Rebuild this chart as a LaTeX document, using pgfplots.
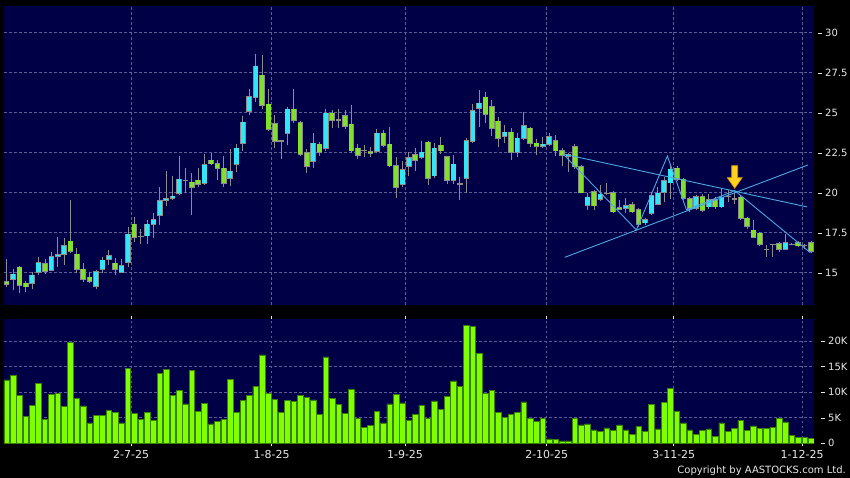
\documentclass[border=0pt]{standalone}
\usepackage{fontspec}
\setmainfont{DejaVu Sans}
\usepackage{pgfplots}
\usepackage{pgfplotstable}
\pgfplotsset{compat=1.18}
\definecolor{bg}{HTML}{000046}
\definecolor{gridc}{HTML}{5C5C98}
\definecolor{upc}{HTML}{33E6F5}
\definecolor{dnc}{HTML}{80E02A}
\definecolor{edgec}{HTML}{8C8C8C}
\definecolor{volc}{HTML}{80FF00}
\definecolor{voledge}{HTML}{3A8000}
\definecolor{linec}{HTML}{4DA8E0}
\definecolor{txt}{HTML}{E8E8E8}
\definecolor{arrowf}{HTML}{FFD21F}
\definecolor{arrowd}{HTML}{E08A00}

\pgfplotstableread{
i O H L C
2 14.58 15.21 13.92 14.90
5 14.33 15.06 13.96 14.83
6 15.04 15.96 14.83 15.63
8 15.17 16.31 15.13 16.00
9 16.02 17.25 15.38 16.13
10 16.17 17.15 15.48 16.69
15 14.17 15.17 13.96 15.06
16 15.21 16.00 14.96 15.77
17 15.83 16.42 15.48 16.04
19 15.04 15.83 15.00 15.44
20 15.65 17.83 15.38 17.40
23 17.31 18.29 16.77 18.02
24 18.02 18.71 17.15 18.29
25 18.58 20.33 17.98 19.48
26 19.52 21.35 19.17 19.60
27 19.67 21.04 19.54 19.77
28 19.96 22.29 19.85 20.83
32 20.58 22.40 20.48 21.73
36 20.90 22.73 20.44 21.33
37 21.77 23.04 21.31 22.77
38 23.08 24.79 22.63 24.40
39 25.10 26.46 24.85 26.00
40 25.96 28.67 25.69 27.90
45 23.71 25.38 22.98 25.21
49 21.98 23.71 21.52 23.08
51 22.77 25.21 22.60 24.96
59 22.60 23.96 22.50 23.71
63 20.52 21.98 20.33 21.42
64 21.67 22.56 21.04 22.19
66 22.21 23.23 22.10 22.52
68 21.06 23.13 20.90 22.77
71 20.79 22.35 20.54 21.77
73 20.90 23.40 20.00 23.25
74 23.23 25.54 23.10 25.13
75 25.27 26.42 24.13 25.59
79 23.54 24.23 23.10 23.77
81 22.52 23.75 22.25 23.40
82 23.40 25.06 23.30 24.19
85 22.92 23.46 22.80 23.02
86 23.02 23.75 22.90 23.50
89 22.28 22.45 21.31 22.38
92 19.23 19.96 18.92 19.71
94 19.58 20.48 19.50 19.90
98 19.02 19.65 18.71 19.17
101 18.13 18.40 18.00 18.29
102 18.71 20.06 18.60 19.81
103 19.29 20.38 19.20 19.96
104 20.02 21.00 19.44 20.75
105 20.62 21.73 19.60 21.46
109 19.02 19.85 18.90 19.75
111 19.12 19.90 19.00 19.54
113 19.12 20.27 19.02 19.71
123 16.46 17.40 16.40 16.88
}\up

\pgfplotstableread{
i O H L C
1 14.44 15.83 14.13 14.27
3 15.33 15.44 13.71 14.21
4 14.33 14.48 13.81 14.13
7 15.56 15.83 14.92 15.10
11 16.96 19.54 16.21 16.35
12 16.15 16.52 15.00 15.21
13 15.21 15.63 14.44 14.58
14 14.71 15.06 14.38 14.48
18 15.58 15.90 14.85 15.21
21 18.02 18.46 16.94 17.21
30 20.65 21.25 18.60 20.33
31 20.77 21.56 20.33 20.52
33 22.02 22.46 21.73 21.81
34 21.79 22.04 20.79 21.52
35 21.52 22.29 20.38 20.58
41 27.33 28.60 25.21 25.48
42 25.52 26.46 23.88 23.98
43 24.31 24.85 22.77 23.21
46 25.21 26.46 24.33 24.54
47 24.38 24.50 22.30 22.42
48 22.50 22.71 21.21 21.67
50 23.02 23.19 22.30 22.52
52 24.96 25.17 24.02 24.54
54 24.79 25.17 24.00 24.17
55 24.27 25.48 22.50 22.63
56 22.77 23.04 22.08 22.33
58 22.56 22.88 22.21 22.46
60 23.71 23.92 22.85 22.98
61 23.02 24.09 21.60 21.69
62 21.69 22.21 19.65 20.33
65 22.38 22.77 21.38 22.02
67 23.15 23.23 20.48 20.90
69 22.96 23.46 22.42 22.63
70 22.25 22.29 20.54 20.79
76 25.96 26.27 24.38 24.90
77 25.38 25.80 23.54 24.02
78 24.46 24.71 22.88 23.40
80 23.77 24.02 22.04 22.52
83 24.02 24.13 22.88 23.08
84 23.08 23.33 22.35 22.92
87 23.25 23.60 22.30 22.63
88 22.63 22.77 21.67 22.35
90 22.85 23.05 21.50 21.63
91 21.63 21.70 19.95 20.00
93 20.06 20.17 18.92 19.19
96 20.00 20.13 18.70 18.81
97 19.06 19.54 18.90 18.98
99 19.23 19.44 18.70 18.81
100 18.92 19.02 17.83 18.04
106 21.52 21.67 20.70 20.83
107 20.83 20.90 19.55 19.65
108 19.60 19.75 18.81 19.02
110 19.75 19.90 18.80 18.90
112 19.54 19.75 19.00 19.12
116 19.71 19.85 18.30 18.40
117 18.40 18.50 17.70 17.90
118 17.65 18.30 17.15 17.21
119 17.46 17.55 16.65 16.78
122 16.78 16.90 16.30 16.46
125 16.88 16.95 16.60 16.69
127 16.88 16.95 16.20 16.35
}\down

\pgfplotstableread{
i O H L C
22 17.27 17.71 16.77 17.27
29 20.77 21.52 20.00 20.77
44 23.23 23.23 22.08 23.23
53 24.54 25.21 24.02 24.54
57 22.63 22.98 22.25 22.63
72 20.54 20.96 19.54 20.54
95 19.96 20.58 19.85 19.96
114 19.75 20.17 19.44 19.75
115 19.60 19.95 19.30 19.60
120 16.46 16.73 16.00 16.46
121 16.78 16.78 16.00 16.78
124 16.78 16.85 16.70 16.78
126 16.69 16.80 16.50 16.69
}\doji

\pgfplotstableread{
i v
1 12.4
2 13.2
3 9.4
4 5.3
5 7.4
6 11.7
7 4.6
8 9.6
9 9.7
10 7.2
11 19.8
12 8.8
13 7.3
14 4.0
15 5.5
16 5.5
17 6.4
18 6.0
19 4.0
20 14.7
21 5.8
22 4.6
23 6.1
24 4.4
25 13.7
26 14.4
27 9.4
28 10.4
29 7.7
30 14.3
31 6.2
32 7.8
33 3.8
34 4.3
35 4.6
36 12.5
37 6.1
38 8.4
39 9.4
40 11.2
41 17.3
42 9.7
43 8.6
44 6.1
45 8.4
46 8.2
47 9.4
48 9.0
49 8.5
50 5.7
51 16.9
52 8.8
53 7.6
54 5.9
55 10.5
56 4.9
57 3.1
58 3.5
59 6.3
60 4.0
61 7.7
62 9.6
63 7.9
64 4.4
65 5.7
66 7.4
67 4.9
68 8.3
69 6.7
70 9.2
71 12.2
72 11.2
73 23.1
74 22.9
75 17.5
76 9.7
77 10.4
78 6.0
79 5.0
80 5.7
81 6.1
82 8.1
83 4.8
84 4.3
85 4.9
86 0.85
87 0.7
88 0.45
89 0.45
90 4.8
91 3.6
92 3.8
93 2.6
94 2.4
95 3.0
96 2.5
97 3.6
98 2.6
99 1.8
100 3.3
101 2.3
102 7.6
103 2.8
104 8.0
105 10.8
106 6.2
107 4.0
108 2.6
109 1.8
110 2.5
111 2.8
112 1.4
113 4.0
114 2.4
115 2.9
116 4.5
117 2.5
118 3.4
119 2.9
120 2.9
121 3.1
122 4.9
123 4.2
124 1.6
125 1.2
126 1.2
127 1.0
}\vol

\pgfdeclareplotmark{yarrow}{%
  \pgfpathmoveto{\pgfpoint{-3pt}{11.3pt}}%
  \pgfpathlineto{\pgfpoint{3pt}{11.3pt}}%
  \pgfpathlineto{\pgfpoint{3pt}{-0.7pt}}%
  \pgfpathlineto{\pgfpoint{7.5pt}{-0.7pt}}%
  \pgfpathlineto{\pgfpoint{0pt}{-11.3pt}}%
  \pgfpathlineto{\pgfpoint{-7.5pt}{-0.7pt}}%
  \pgfpathlineto{\pgfpoint{-3pt}{-0.7pt}}%
  \pgfpathclose
  \pgfusepathqfillstroke}

\newcommand{\tl}{\textcolor{txt}{\rule[0.3em]{4pt}{0.7pt}}\hspace{3pt}}

\pgfplotsset{
  panel/.style={
    scale only axis, width=810pt,
    xmin=0.58, xmax=127.47,
    axis background/.style={fill=bg},
    axis line style={draw=none},
    grid=major,
    major grid style={gridc, dash pattern=on 2.5pt off 2.5pt, line width=0.6pt},
    xtick={20.5,42.5,63.4,85.6,105.5,125.6},
    ytick style={draw=none},
    yticklabel pos=right,
    yticklabel style={anchor=west, inner sep=0pt, xshift=4pt, text=txt, font=\fontsize{10}{12}\selectfont},
  },
}

\begin{document}
\begin{tikzpicture}
\fill[black] (0,0) rectangle (850pt,478pt);

% price panel
\begin{axis}[panel,
  at={(4pt,173pt)}, anchor=south west, height=299pt,
  ymin=12.98, ymax=31.67,
  ytick={15,17.5,20,22.5,25,27.5,30},
  yticklabels={\tl 15,\tl 17.5,\tl 20,\tl 22.5,\tl 25,\tl 27.5,\tl 30},
  xticklabels={}, xtick style={draw=none},
]
% wicks
\addplot[forget plot, edgec, line width=0.9pt, mark=none, quiver={u=0, v=\thisrow{H}-\thisrow{L}}] table[x=i, y=L] {\up};
\addplot[forget plot, edgec, line width=0.9pt, mark=none, quiver={u=0, v=\thisrow{H}-\thisrow{L}}] table[x=i, y=L] {\down};
\addplot[forget plot, edgec, line width=0.9pt, mark=none, quiver={u=0, v=\thisrow{H}-\thisrow{L}}] table[x=i, y=L] {\doji};
% bodies up (outline, fill)
\addplot[forget plot, edgec, line width=5.6pt, mark=none, quiver={u=0, v=\thisrow{C}-\thisrow{O}+0.09}] table[x=i, y expr=\thisrow{O}-0.045] {\up};
\addplot[forget plot, upc, line width=4.2pt, mark=none, quiver={u=0, v=\thisrow{C}-\thisrow{O}}] table[x=i, y=O] {\up};
% bodies down (outline, fill)
\addplot[forget plot, edgec, line width=5.6pt, mark=none, quiver={u=0, v=\thisrow{C}-\thisrow{O}-0.09}] table[x=i, y expr=\thisrow{O}+0.045] {\down};
\addplot[forget plot, dnc, line width=4.2pt, mark=none, quiver={u=0, v=\thisrow{C}-\thisrow{O}}] table[x=i, y=O] {\down};
% doji
\addplot[forget plot, only marks, mark=-, mark size=2.8pt, mark options={edgec, line width=1.3pt}] table[x=i, y=O] {\doji};
% trend lines
\addplot[linec, line width=0.9pt] coordinates {(88.16,22.42) (126.4,19.11)};
\addplot[linec, line width=0.9pt] coordinates {(88.42,15.96) (126.5,21.73)};
\addplot[linec, line width=0.9pt] coordinates {(88.16,22.42) (99.65,17.67) (104.5,22.29) (107.5,18.92) (115.05,20.13) (126.9,16.25)};
% signal arrow
\addplot[only marks, mark=yarrow, mark options={fill=arrowf, draw=arrowd, line width=0.6pt}] coordinates {(115.05,20.98)};
\end{axis}

% volume panel
\begin{axis}[panel,
  at={(4pt,34.7pt)}, anchor=south west, height=124.3pt,
  ymin=0, ymax=24.3,
  ytick={0,5,10,15,20},
  yticklabels={\tl 0,\tl 5K,\tl 10K,\tl 15K,\tl 20K},
  xticklabels={2-7-25,1-8-25,1-9-25,2-10-25,3-11-25,1-12-25},
  xtick style={txt, line width=0.6pt}, tick align=outside, major tick length=3pt,
  xticklabel style={text=txt, font=\fontsize{11}{13}\selectfont, yshift=-1pt},
]
\addplot[ybar, bar width=5.6pt, fill=volc, draw=voledge, line width=0.6pt] table[x=i, y=v] {\vol};
\end{axis}

\node[anchor=base east, text=txt, font=\fontsize{10}{12}\selectfont, inner sep=0pt] at (846pt,4pt) {Copyright by AASTOCKS.com Ltd.};

\pgfresetboundingbox
\useasboundingbox (0,0) rectangle (850pt,478pt);
\end{tikzpicture}
\end{document}
